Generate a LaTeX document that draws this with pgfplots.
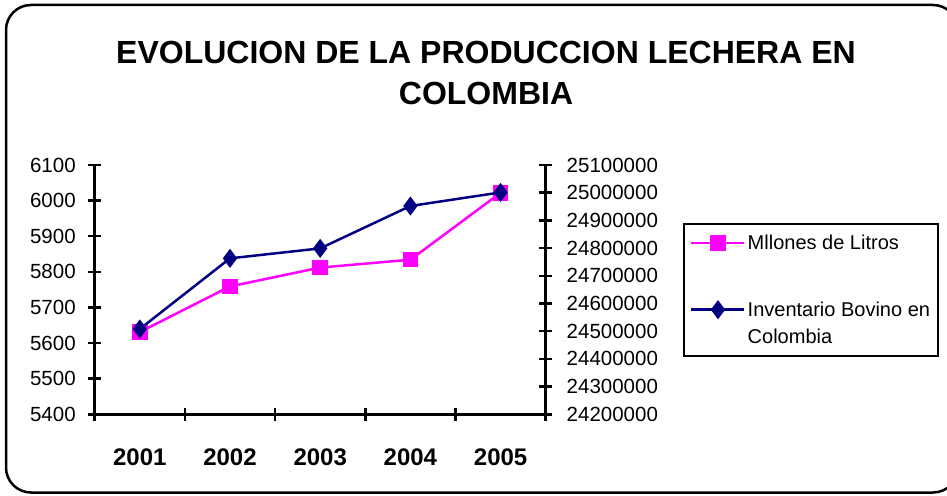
\documentclass[border=0pt]{standalone}
\usepackage{fontspec}
\setmainfont{Liberation Sans}
\usepackage{pgfplots}
\pgfplotsset{compat=1.18}
\definecolor{pinkline}{HTML}{FF00FF}
\definecolor{navyline}{HTML}{000080}

\pgfplotsset{
  common/.style={
    scale only axis, width=451pt, height=249.3pt,
    at={(94.7pt,80.7pt)}, anchor=south west,
    xmin=0.5, xmax=5.5,
    clip=false,
    axis line style={-, line width=3pt},
    tick style={line width=2.5pt, black},
    major tick length=13pt,
    minor tick length=13pt,
    tick align=center,
    ticklabel style={font=\fontsize{20.5}{24}\selectfont},
    scaled y ticks=false,
    /pgf/number format/assume math mode=true,
    /pgf/number format/fixed,
    /pgf/number format/precision=0,
    /pgf/number format/1000 sep={},
  }
}

\begin{document}
\begin{tikzpicture}
\useasboundingbox (0pt,0pt) rectangle (947pt,495pt);
\draw[line width=2.5pt, rounded corners=25pt] (6pt,2.5pt) rectangle (958pt,490pt);
\node[font=\bfseries\fontsize{32}{41}\selectfont, align=center] at (486pt,422pt)
  {EVOLUCION DE LA PRODUCCION LECHERA EN\\COLOMBIA};

\begin{axis}[common,
  ymin=5400, ymax=6100,
  ytick={5400,5500,5600,5700,5800,5900,6000,6100},
  axis x line*=bottom, axis y line*=left,
  xtick={1,2,3,4,5},
  xticklabels={2001,2002,2003,2004,2005},
  major x tick style={draw=none},
  minor xtick={0.5,1.5,2.5,3.5,4.5,5.5},
  xticklabel style={font=\bfseries\fontsize{24}{28}\selectfont, yshift=-24pt},
  yticklabel style={xshift=-9pt},
]
\addplot[pinkline, line width=2.5pt, mark=square*, mark size=6.5pt] coordinates {
  (1,5631) (2,5759) (3,5812) (4,5834) (5,6022)};
\end{axis}

\begin{axis}[common,
  ymin=24200000, ymax=25100000,
  ytick={24200000,24300000,24400000,24500000,24600000,24700000,24800000,24900000,25000000,25100000},
  axis y line*=right, axis x line=none,
  yticklabel style={xshift=11pt},
  legend style={at={(axis description cs:1.3044,0.7674)}, anchor=north west,
    draw=black, line width=2.5pt, font=\fontsize{20}{27}\selectfont,
    inner xsep=6pt, inner ysep=9pt, row sep=47pt},
  legend cell align=left,
  legend image code/.code={\draw[mark repeat=2,mark phase=2,#1] plot coordinates {(0pt,0pt)(26.5pt,0pt)(53pt,0pt)};},
]
\addlegendimage{pinkline, line width=2.5pt, mark=square*, mark size=6.5pt}
\addlegendentry[xshift=4pt]{Mllones de Litros}
\addplot[navyline, line width=2.5pt, mark=diamond*, mark size=7.5pt,
  legend image post style={yshift=14pt}] coordinates {
  (1,24508000) (2,24763000) (3,24799000) (4,24952000) (5,25001000)};
\addlegendentry[align=left, xshift=4pt, font=\fontsize{20}{27}\selectfont]{Inventario Bovino en\\Colombia}
\end{axis}
\end{tikzpicture}
\end{document}
